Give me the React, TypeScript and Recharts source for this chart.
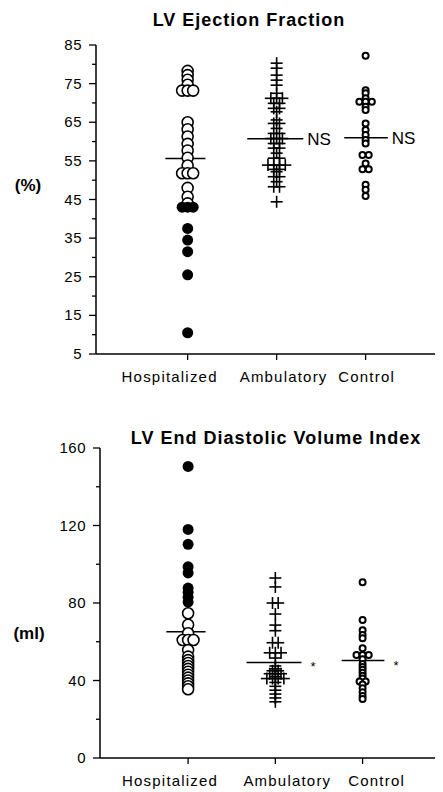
import React from 'react';
import { ScatterChart, Scatter, XAxis, YAxis, ReferenceLine } from 'recharts';

const categories = ['Hospitalized', 'Ambulatory', 'Control'];

// LV ejection fraction (%)
const hospOpenEF = [78.3, 77.2, 76, 74.7, 73.2, 73.2, 73.2, 65, 63.2, 61.3, 59.4, 57.7, 55.8, 53.8, 51.8, 51.8, 51.8, 48, 45.7, 44];
const hospFilledEF = [43, 43, 43, 37.5, 34.5, 31.5, 25.5, 10.5];
const ambulatoryEF = [80.3, 79, 77.2, 75.9, 74.6, 72.5, 71.2, 71.2, 71.2, 69.9, 69.9, 68.6, 68.6, 67.7, 65.6, 64.7, 64.7, 63.4, 62.1, 62.1, 60.8, 60.8, 60.8, 59.5, 59.5, 58.3, 58.3, 57, 55.7, 55.7, 53.9, 53.9, 53.9, 53.9, 52.8, 52.8, 52.2, 50.9, 50.9, 49.6, 48.3, 48.3, 44.4];
const controlEF = [82.2, 73.3, 72.5, 71.2, 70.3, 70.3, 70.3, 69, 68.2, 64.7, 63, 61.7, 60.4, 59.5, 56.5, 56.5, 54.3, 52.8, 52.8, 48.8, 47.5, 45.9];
const meansEF = [55.6, 60.7, 61];
const tagsEF = ['', 'NS', 'NS'];
const ticksEF = [5, 10, 15, 20, 25, 30, 35, 40, 45, 50, 55, 60, 65, 70, 75, 80, 85];
const labelsEF = [5, 15, 25, 35, 45, 55, 65, 75, 85];

// LV end diastolic volume index (ml)
const hospOpenEDV = [74.7, 68.8, 64.4, 60.9, 60.9, 60.9, 55.7, 52.3, 50.5, 49, 47.5, 46, 44.5, 43, 41.5, 40, 38.5, 37, 35.5];
const hospFilledEDV = [150.5, 118, 110.3, 98.7, 95.5, 87.7, 85.5, 83, 80.5];
const ambulatoryEDV = [92.9, 88.3, 80, 80, 74.3, 68.6, 65.7, 59.5, 59.5, 54.3, 54.3, 54.3, 51.6, 47.5, 46, 45, 45, 43.5, 43.5, 43.5, 42, 41, 41, 41, 41, 39, 37, 35, 33, 31, 29];
const controlEDV = [90.7, 71.2, 66, 63.5, 61.8, 56.6, 53.2, 53.2, 53.2, 51, 48.5, 47, 45.5, 44, 42.5, 41, 39.5, 39.5, 38, 36, 34, 32, 30.5];
const meansEDV = [65.2, 49.3, 50.3];
const tagsEDV = ['', '*', '*'];
const ticksEDV = [0, 20, 40, 60, 80, 100, 120, 140, 160];
const labelsEDV = [0, 40, 80, 120, 160];

const FONT = 'Liberation Sans, Arial, Helvetica, sans-serif';

// spread equal values side by side around the category position
function spread(values: number[], center: number, step: number) {
  const counts: Record<string, number> = {};
  values.forEach((v) => (counts[v] = (counts[v] || 0) + 1));
  const seen: Record<string, number> = {};
  return values.map((v) => {
    const i = (seen[v] = seen[v] === undefined ? 0 : seen[v] + 1);
    return { x: center + (i - (counts[v] - 1) / 2) * step, y: v };
  });
}

const OpenCircle = (p: any) => (
  <circle cx={p.cx} cy={p.cy} r={5.5} fill="#fff" stroke="#000" strokeWidth={1.6} />
);
const FilledCircle = (p: any) => <circle cx={p.cx} cy={p.cy} r={5.5} fill="#000" />;
const Cross = (p: any) => (
  <g stroke="#000" strokeWidth={1.6}>
    <line x1={p.cx - 6} x2={p.cx + 6} y1={p.cy} y2={p.cy} />
    <line x1={p.cx} x2={p.cx} y1={p.cy - 6} y2={p.cy + 6} />
  </g>
);
const Ring = (p: any) => (
  <circle cx={p.cx} cy={p.cy} r={3} fill="#fff" stroke="#000" strokeWidth={2} />
);

const YTick = ({ x, y, payload, labels }: any) => {
  const axisX = x + 14;
  const major = labels.includes(payload.value);
  return (
    <g>
      <line x1={axisX - (major ? 7 : 4)} x2={axisX} y1={y} y2={y} stroke="#000" strokeWidth={1.3} />
      {major && (
        <text x={x} y={y} dy={5} textAnchor="end" fontSize={15} letterSpacing={0.5} fill="#000" fontFamily={FONT}>
          {payload.value}
        </text>
      )}
    </g>
  );
};

const XTick = ({ x, y, payload, shifts }: any) => (
  <text x={x + shifts[payload.value - 1]} y={y + 16} textAnchor="middle" fontSize={15} letterSpacing={1.2} fill="#000" fontFamily={FONT}>
    {categories[payload.value - 1]}
  </text>
);

const MeanTag = ({ viewBox, text, size, gap, dy }: any) =>
  text ? (
    <text x={viewBox.x + viewBox.width + gap} y={viewBox.y + dy} fontSize={size} fill="#000" fontFamily={FONT}>
      {text}
    </text>
  ) : null;

const halfWidths = [
  [-0.25, 0.2],
  [-0.33, 0.3],
  [-0.24, 0.25],
];

interface PanelProps {
  height: number;
  top: number;
  left: number;
  bottom: number;
  yTicks: number[];
  yLabels: number[];
  xDomain: number[];
  xShifts: number[];
  hospOpen: number[];
  hospFilled: number[];
  ambulatory: number[];
  control: number[];
  means: number[];
  tags: string[];
  tagSize: number;
  tagGap: number;
  tagDy: number;
}

const Panel = (p: PanelProps) => (
  <ScatterChart width={443} height={p.height} margin={{ top: p.top, right: 8, bottom: p.bottom, left: 46 }}>
    <XAxis
      type="number"
      dataKey="x"
      domain={p.xDomain}
      ticks={[1, 2, 3]}
      allowDataOverflow
      height={30}
      tickSize={6}
      tickMargin={6}
      axisLine={{ stroke: '#000', strokeWidth: 1.5 }}
      tickLine={{ stroke: '#000', strokeWidth: 1.3 }}
      tick={<XTick shifts={p.xShifts} />}
    />
    <YAxis
      type="number"
      dataKey="y"
      domain={[p.yTicks[0], p.yTicks[p.yTicks.length - 1]]}
      ticks={p.yTicks}
      interval={0}
      width={p.left - 46}
      tickSize={6}
      tickMargin={8}
      axisLine={{ stroke: '#000', strokeWidth: 1.5 }}
      tickLine={false}
      tick={<YTick labels={p.yLabels} />}
    />
    <Scatter data={spread(p.hospOpen, 1, 0.062)} shape={OpenCircle} isAnimationActive={false} />
    <Scatter data={spread(p.hospFilled, 1, 0.062)} shape={FilledCircle} isAnimationActive={false} />
    <Scatter data={spread(p.ambulatory, 2, 0.065)} shape={Cross} isAnimationActive={false} />
    <Scatter data={spread(p.control, 3, 0.07)} shape={Ring} isAnimationActive={false} />
    {p.means.map((m, i) => (
      <ReferenceLine
        key={i}
        segment={[
          { x: i + 1 + halfWidths[i][0], y: m },
          { x: i + 1 + halfWidths[i][1], y: m },
        ]}
        stroke="#000"
        strokeWidth={1.5}
        label={<MeanTag text={p.tags[i]} size={p.tagSize} gap={p.tagGap} dy={p.tagDy} />}
      />
    ))}
  </ScatterChart>
);

const titleStyle: React.CSSProperties = {
  position: 'absolute',
  transform: 'translate(-50%, -50%)',
  whiteSpace: 'nowrap',
  fontFamily: FONT,
  fontWeight: 'bold',
  fontSize: 18,
  letterSpacing: 1,
  lineHeight: '20px',
  color: '#000',
};

export default function App() {
  return (
    <div style={{ position: 'absolute', top: 0, left: 0, width: 443, height: 792, background: '#fff' }}>
      <div style={{ ...titleStyle, left: 249, top: 20 }}>LV Ejection Fraction</div>
      <div style={{ ...titleStyle, left: 28, top: 186, fontSize: 17, letterSpacing: 0 }}>(%)</div>
      <div style={{ position: 'absolute', top: 0, left: 0 }}>
        <Panel
          height={400}
          top={45}
          left={96}
          bottom={16}
          yTicks={ticksEF}
          yLabels={labelsEF}
          xDomain={[-0.03, 3.78]}
          xShifts={[-18, 7, 1]}
          hospOpen={hospOpenEF}
          hospFilled={hospFilledEF}
          ambulatory={ambulatoryEF}
          control={controlEF}
          means={meansEF}
          tags={tagsEF}
          tagSize={17}
          tagGap={4}
          tagDy={6}
        />
      </div>
      <div style={{ ...titleStyle, left: 276, top: 438 }}>LV End Diastolic Volume Index</div>
      <div style={{ ...titleStyle, left: 29, top: 634, fontSize: 17, letterSpacing: 0 }}>(ml)</div>
      <div style={{ position: 'absolute', top: 400, left: 0 }}>
        <Panel
          height={392}
          top={48}
          left={100}
          bottom={4}
          yTicks={ticksEDV}
          yLabels={labelsEDV}
          xDomain={[-0.01, 3.83]}
          xShifts={[-18, 12, 14]}
          hospOpen={hospOpenEDV}
          hospFilled={hospFilledEDV}
          ambulatory={ambulatoryEDV}
          control={controlEDV}
          means={meansEDV}
          tags={tagsEDV}
          tagSize={13}
          tagGap={9}
          tagDy={9}
        />
      </div>
    </div>
  );
}
